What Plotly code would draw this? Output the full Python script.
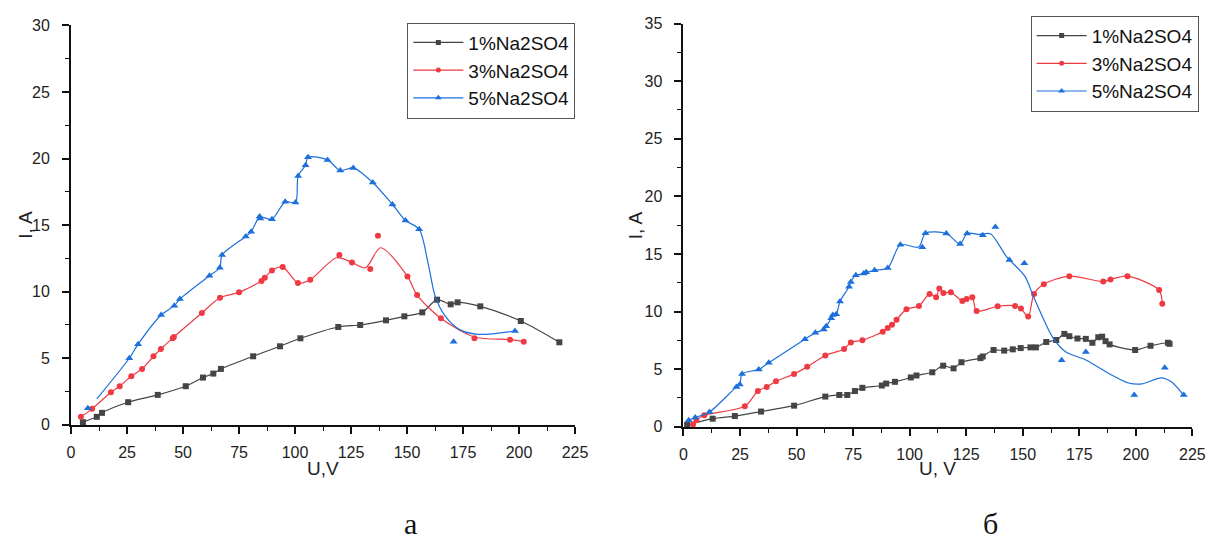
import plotly.graph_objects as go

W, H = 1232, 555

# ---------------- panel "а" ----------------
u1_a = [5.3, 11.5, 13.8, 25.5, 38.7, 51.2, 58.9, 63.5, 66.9, 81.3, 93.3, 102.4,
        119.3, 129.1, 140.6, 148.8, 156.8, 163.4, 169.5, 172.6, 182.7, 200.8, 218.0]
i1_a = [0.2, 0.6, 0.9, 1.7, 2.25, 2.9, 3.55, 3.85, 4.2, 5.15, 5.9, 6.5,
        7.35, 7.5, 7.85, 8.15, 8.45, 9.4, 9.05, 9.2, 8.9, 7.8, 6.2]

u3_a = [4.4, 9.4, 17.8, 21.7, 26.9, 31.7, 36.8, 40.1, 45.4, 45.9, 58.4, 66.5, 75.0,
        85.0, 86.5, 89.7, 94.5, 101.3, 106.8, 119.8, 125.4, 133.6, 137.0, 150.2,
        154.5, 165.1, 180.1, 196.0, 202.1]
i3_a = [0.6, 1.2, 2.45, 2.9, 3.65, 4.2, 5.15, 5.7, 6.5, 6.6, 8.4, 9.55, 9.95,
        10.8, 11.05, 11.6, 11.85, 10.65, 10.9, 12.75, 12.2, 11.7, 14.2, 11.15,
        9.75, 8.0, 6.5, 6.4, 6.25]
# smoothed trend line for 3%
cu3_a = [4.4, 9.4, 17.8, 21.7, 26.9, 31.7, 36.8, 40.1, 45.6, 58.4, 66.5, 75.0,
         85.0, 86.5, 89.7, 94.5, 101.3, 106.8, 118.5, 125.4, 131.5, 138.2, 150.2,
         154.5, 165.1, 180.1, 196.0, 202.1]
ci3_a = [0.6, 1.2, 2.45, 2.9, 3.65, 4.2, 5.15, 5.7, 6.55, 8.4, 9.55, 9.95,
         10.8, 11.05, 11.6, 11.85, 10.65, 10.9, 12.55, 12.2, 11.8, 13.3, 11.15,
         9.75, 8.0, 6.6, 6.4, 6.25]

u5_a = [7.5, 26.0, 29.9, 40.2, 46.1, 48.6, 61.8, 66.4, 67.4, 78.0, 80.4, 84.2, 84.5,
        89.7, 95.6, 100.2, 101.4, 104.7, 105.8, 114.5, 120.2, 126.0, 134.7, 143.5,
        149.3, 155.4, 170.8, 198.2]
i5_a = [1.25, 5.0, 6.05, 8.25, 8.95, 9.45, 11.2, 11.8, 12.75, 14.15, 14.5, 15.65, 15.5,
        15.45, 16.75, 16.7, 18.7, 19.5, 20.1, 19.9, 19.1, 19.3, 18.2, 16.55,
        15.35, 14.7, 6.25, 7.05]
# smoothed trend line for 5%
cu5_a = [11.5, 26.0, 29.9, 40.2, 46.1, 48.6, 61.8, 66.4, 67.4, 78.0, 80.4, 84.3,
         89.7, 95.6, 100.2, 101.4, 104.7, 105.8, 114.5, 120.2, 126.0, 134.7, 143.5,
         149.3, 155.4, 159.4, 162.5, 166.9, 173.5, 181.4, 188.9, 198.2]
ci5_a = [1.95, 5.0, 6.05, 8.25, 8.95, 9.45, 11.2, 11.8, 12.75, 14.15, 14.5, 15.6,
         15.45, 16.75, 16.7, 18.7, 19.5, 20.1, 19.9, 19.1, 19.3, 18.2, 16.55,
         15.35, 14.7, 12.15, 9.7, 8.2, 7.15, 6.8, 6.85, 7.05]

# ---------------- panel "б" ----------------
u1_b = [1.6, 12.9, 22.7, 34.3, 48.9, 62.7, 68.9, 72.4, 75.8, 79.1, 87.7, 89.6, 93.5,
        100.5, 103.0, 110.0, 114.8, 119.4, 122.9, 131.3, 132.3, 137.1, 141.8, 145.6,
        149.1, 153.4, 155.8, 160.4, 164.8, 168.4, 170.6, 174.2, 177.9, 180.8, 183.4,
        185.1, 186.6, 188.4, 199.7, 206.5, 214.2, 214.9]
i1_b = [0.15, 0.7, 0.93, 1.32, 1.83, 2.62, 2.76, 2.76, 3.1, 3.38, 3.58, 3.75, 3.9,
        4.28, 4.45, 4.73, 5.3, 5.07, 5.6, 5.96, 6.1, 6.66, 6.61, 6.72,
        6.83, 6.89, 6.89, 7.36, 7.53, 8.06, 7.86, 7.66, 7.63, 7.29, 7.77,
        7.82, 7.43, 7.15, 6.66, 7.03, 7.29, 7.2]

u3_b = [4.2, 5.7, 9.2, 27.1, 32.9, 36.8, 40.9, 48.9, 54.7, 62.7, 71.0, 74.0, 79.1,
        88.1, 90.3, 92.2, 94.2, 98.6, 104.1, 108.8, 111.7, 113.1, 114.9, 118.2,
        123.3, 125.2, 127.7, 129.6, 138.9, 146.6, 149.2, 152.4, 155.0, 159.3,
        170.6, 185.6, 188.8, 196.3, 210.3, 211.7]
i3_b = [0.2, 0.57, 1.0, 1.78, 3.1, 3.46, 3.94, 4.59, 5.2, 6.19, 6.75, 7.32, 7.51,
        8.24, 8.58, 8.86, 9.28, 10.21, 10.49, 11.53, 11.25, 12.0, 11.62, 11.67,
        10.92, 11.1, 11.25, 10.04, 10.46, 10.49, 10.26, 9.56, 11.53, 12.37,
        13.07, 12.6, 12.79, 13.07, 11.86, 10.68]

u5_b = [2.3, 5.2, 11.5, 23.4, 24.9, 25.9, 33.3, 37.7, 53.7, 58.3, 62.0, 63.1, 65.3,
        66.0, 67.5, 69.2, 73.2, 74.0, 76.2, 79.7, 80.8, 84.5, 90.3, 95.9, 105.6,
        107.0, 116.2, 122.3, 125.4, 132.3, 137.9, 144.1, 150.7, 167.2, 177.9,
        199.3, 212.8, 221.2]
i5_b = [0.57, 0.8, 1.28, 3.46, 3.66, 4.59, 4.98, 5.55, 7.6, 8.16, 8.44, 8.72, 9.42,
        9.7, 9.76, 10.88, 12.15, 12.57, 13.14, 13.3, 13.41, 13.58, 13.77, 15.79, 15.59,
        16.8, 16.77, 15.87, 16.77, 16.63, 17.33, 14.47, 14.19, 5.78, 6.48,
        2.75, 5.13, 2.75]
# smoothed trend line for 5%
cu5_b = [2.3, 5.2, 11.5, 23.4, 24.9, 25.9, 33.3, 37.7, 53.7, 58.3, 62.0, 63.1, 65.3,
         66.0, 67.5, 69.2, 73.2, 74.0, 76.2, 79.7, 80.8, 84.5, 90.3, 95.9, 104.0,
         107.0, 116.2, 122.3, 125.4, 131.0, 135.7, 142.9, 150.9, 154.6, 158.8,
         163.3, 169.1, 177.9, 188.1, 196.8, 202.6, 211.3, 215.7, 221.3]
ci5_b = [0.57, 0.8, 1.28, 3.46, 3.66, 4.59, 4.98, 5.55, 7.6, 8.16, 8.44, 8.72, 9.42,
         9.7, 9.76, 10.88, 12.15, 12.57, 13.14, 13.3, 13.41, 13.58, 13.77, 15.79, 15.6,
         16.8, 16.77, 15.87, 16.77, 16.7, 16.75, 14.75, 13.07, 11.38, 9.5,
         7.74, 6.48, 5.8, 4.62, 3.8, 3.72, 4.25, 3.9, 2.7]

series_names = ["1%Na2SO4", "3%Na2SO4", "5%Na2SO4"]
x_ticks = [0, 25, 50, 75, 100, 125, 150, 175, 200, 225]

C_BLACK = "#454545"
C_RED = "#F03A43"
C_BLUE = "#1D6FDB"
styles = [
    dict(color=C_BLACK, symbol="square", size=6),
    dict(color=C_RED, symbol="circle", size=6),
    dict(color=C_BLUE, symbol="triangle-up", size=7),
]

FONT = "Liberation Sans, Arial, sans-serif"


def px_x(p):
    return p / W


def px_y(p):
    return 1 - p / H


fig = go.Figure()


def add_series(k, pts_u, pts_i, line_u, line_i, xa, ya, legend):
    st = styles[k]
    fig.add_trace(go.Scatter(
        x=line_u, y=line_i, mode="lines", xaxis=xa, yaxis=ya,
        line=dict(color=st["color"], width=1.2, shape="spline", smoothing=0.8),
        showlegend=False, hoverinfo="skip", cliponaxis=False))
    fig.add_trace(go.Scatter(
        x=pts_u, y=pts_i, mode="markers", xaxis=xa, yaxis=ya,
        marker=dict(color=st["color"], symbol=st["symbol"], size=st["size"]),
        showlegend=False, cliponaxis=False))
    # legend entry (line with marker)
    fig.add_trace(go.Scatter(
        x=[None], y=[None], mode="lines+markers", xaxis=xa, yaxis=ya,
        name=series_names[k], legend=legend,
        line=dict(color=st["color"], width=1.2),
        marker=dict(color=st["color"], symbol=st["symbol"], size=st["size"] - 1)))


add_series(0, u1_a, i1_a, u1_a, i1_a, "x", "y", "legend")
add_series(1, u3_a, i3_a, cu3_a, ci3_a, "x", "y", "legend")
add_series(2, u5_a, i5_a, cu5_a, ci5_a, "x", "y", "legend")

add_series(0, u1_b, i1_b, u1_b, i1_b, "x2", "y2", "legend2")
add_series(1, u3_b, i3_b, u3_b, i3_b, "x2", "y2", "legend2")
add_series(2, u5_b, i5_b, cu5_b, ci5_b, "x2", "y2", "legend2")

axis_common = dict(
    showline=True, linecolor="#111", linewidth=2, mirror=False,
    ticks="outside", ticklen=7, tickwidth=1.5, tickcolor="#111",
    showgrid=False, zeroline=False,
    tickfont=dict(family=FONT, size=16, color="#222"),
    fixedrange=True,
)
minor_x = dict(dtick=12.5, tick0=0, ticks="outside", ticklen=4, tickcolor="#111", tickwidth=1.2)
minor_y = dict(dtick=2.5, tick0=0, ticks="outside", ticklen=4, tickcolor="#111", tickwidth=1.2)
legend_common = dict(
    xanchor="left", yanchor="top", bgcolor="white", bordercolor="#555", borderwidth=1,
    font=dict(family=FONT, size=19, color="#111"), itemwidth=50, tracegroupgap=0,
)

fig.update_layout(
    width=W, height=H,
    margin=dict(l=0, r=0, t=0, b=0),
    paper_bgcolor="white", plot_bgcolor="white",
    xaxis=dict(domain=[px_x(68), px_x(579)], range=[0, 225], tickvals=x_ticks,
               minor=minor_x, anchor="y", ticklabelstandoff=5, **axis_common),
    yaxis=dict(domain=[px_y(430), px_y(18)], range=[0, 30], dtick=5,
               minor=minor_y, anchor="x", ticklabelstandoff=9, **axis_common),
    xaxis2=dict(domain=[px_x(689), px_x(1205)], range=[0, 225], tickvals=x_ticks,
                minor=minor_x, anchor="y2", ticklabelstandoff=5, **axis_common),
    yaxis2=dict(domain=[px_y(432), px_y(16)], range=[0, 35], dtick=5,
                minor=minor_y, anchor="x2", ticklabelstandoff=9, **axis_common),
    legend=dict(x=px_x(409), y=px_y(15), **legend_common),
    legend2=dict(x=px_x(1041), y=px_y(8), **legend_common),
    showlegend=True,
)

title_font = dict(family=FONT, size=19, color="#222")
caption_font = dict(family="Liberation Serif, Times New Roman, serif", size=30, color="#111")
annotations = [
    dict(text="I, A", x=px_x(21), y=px_y(224), textangle=-90, font=title_font),
    dict(text="U,V", x=px_x(323), y=px_y(475), font=title_font),
    dict(text="I, A", x=px_x(640), y=px_y(224), textangle=-90, font=title_font),
    dict(text="U, V", x=px_x(947), y=px_y(475), font=title_font),
    dict(text="а", x=px_x(412), y=px_y(532), font=caption_font),
    dict(text="б", x=px_x(1000), y=px_y(532), font=caption_font),
]
for a in annotations:
    a.update(xref="paper", yref="paper", showarrow=False, xanchor="center", yanchor="middle")
fig.update_layout(annotations=annotations)

fig.write_html("out.html")
